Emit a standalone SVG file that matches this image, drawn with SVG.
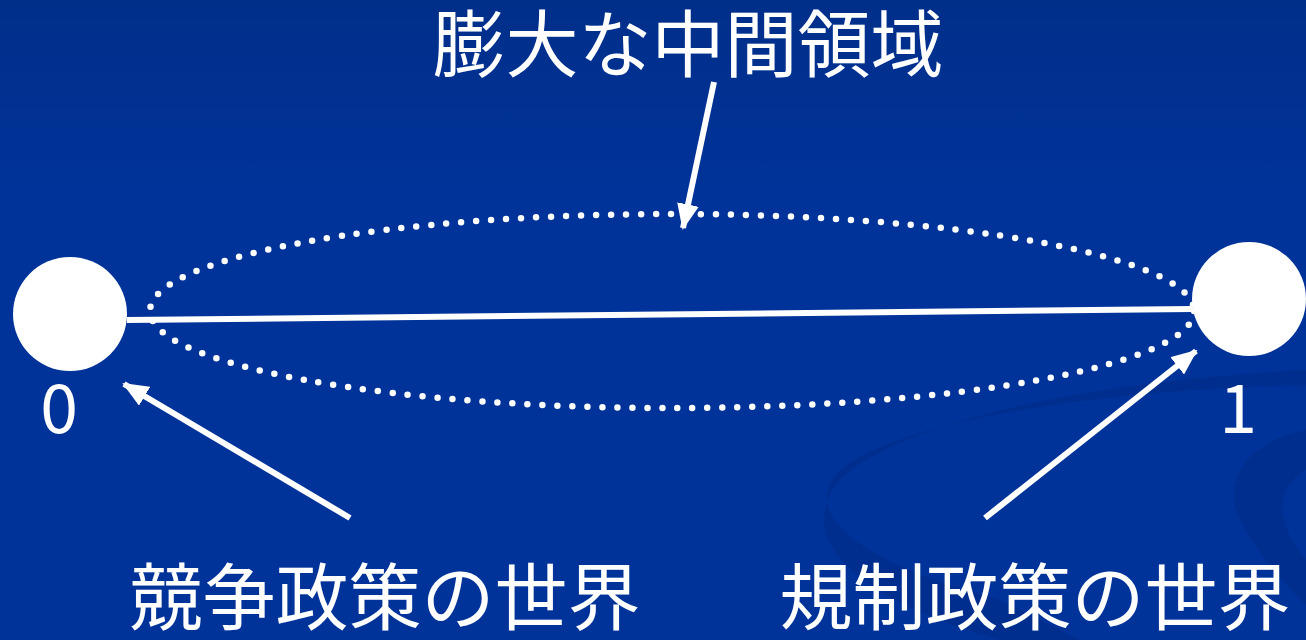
<svg xmlns="http://www.w3.org/2000/svg" width="1306" height="640" viewBox="0 0 1306 640">
<defs>
<linearGradient id="bg" x1="0" y1="0" x2="0" y2="1">
<stop offset="0" stop-color="#002f8a"/>
<stop offset="0.3" stop-color="#003399"/>
<stop offset="1" stop-color="#003399"/>
</linearGradient>
<marker id="ah" viewBox="0 0 26 22" refX="24" refY="11" markerWidth="26" markerHeight="22" orient="auto" markerUnits="userSpaceOnUse">
<path d="M0,0 L26,11 L0,22 Z" fill="#ffffff"/>
</marker>
<style>
.lbl{font-family:"Liberation Sans","Noto Sans CJK JP",sans-serif;fill:#ffffff;}
.dig{font-family:"Noto Sans CJK JP","Liberation Sans",sans-serif;fill:#ffffff;font-size:68px;}
.big{font-size:73px;}
.conn{stroke:#ffffff;stroke-width:6;fill:none;}
.dots{stroke:#ffffff;stroke-width:6.5;stroke-linecap:round;stroke-dasharray:0 15;fill:none;}
.node{fill:#ffffff;}
</style>
</defs>
<rect x="0" y="0" width="1306" height="640" fill="url(#bg)"/>
<g id="swoosh" fill="#002e8c">
<path d="M1306,385 C1100,390 900,420 840,470 C800,510 850,560 1000,600 L1080,640 L1000,640 C860,600 790,540 840,480 C900,420 1100,380 1306,370 Z" opacity="0.85"/>
<path d="M1306,430 C1250,440 1220,480 1240,520 C1260,560 1300,600 1306,605 L1306,560 C1280,530 1270,490 1306,470 Z" opacity="0.85"/>
</g>
<g id="connectors">
<line class="conn" x1="127" y1="320" x2="1192" y2="309"/>
<ellipse class="dots" cx="672" cy="311" rx="522" ry="97"/>
<line class="conn" x1="714" y1="82" x2="683" y2="228" marker-end="url(#ah)"/>
<line class="conn" x1="350" y1="518" x2="124" y2="384" marker-end="url(#ah)"/>
<line class="conn" x1="985" y1="518" x2="1196" y2="351" marker-end="url(#ah)"/>
</g>
<g id="node-0">
<circle class="node" cx="70" cy="314" r="57"/>
<text class="dig" x="59" y="433" text-anchor="middle">0</text>
</g>
<g id="node-1">
<circle class="node" cx="1249" cy="299" r="57"/>
<text class="dig" x="1238" y="433" text-anchor="middle">1</text>
</g>
<g id="label-middle">
<text class="lbl big" x="688" y="71" text-anchor="middle">膨大な中間領域</text>
</g>
<g id="label-competition">
<text class="lbl big" x="385" y="624" text-anchor="middle">競争政策の世界</text>
</g>
<g id="label-regulation">
<text class="lbl big" x="1035" y="624" text-anchor="middle">規制政策の世界</text>
</g>
</svg>
